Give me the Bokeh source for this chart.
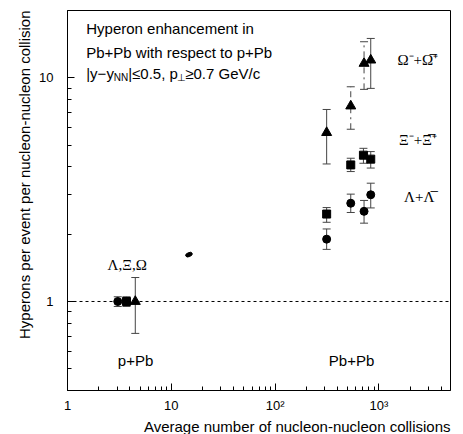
from bokeh.plotting import figure
from bokeh.models import (Range1d, FixedTicker, Whisker, TeeHead, ColumnDataSource,
                          Span, Label, Title)
from bokeh.embed import file_html
from bokeh.resources import INLINE

# ---------------- data ----------------
# p+Pb reference points (Lambda, Xi, Omega)
ppb_x = [3.05, 3.7, 4.5]
ppb_y = [1.0, 1.0, 1.0]
ppb_lo = [0.95, 0.95, 0.72]
ppb_hi = [1.05, 1.05, 1.28]

# stray point
odd_x = [14.8]
odd_y = [1.62]

# Pb+Pb
lam_x = [314, 536, 720, 835]
lam_y = [1.90, 2.75, 2.53, 3.00]
lam_lo = [1.71, 2.50, 2.24, 2.62]
lam_hi = [2.11, 3.02, 2.83, 3.38]

xi_x = [314, 536, 710, 835]
xi_y = [2.46, 4.08, 4.51, 4.33]
xi_lo = [2.26, 3.81, 4.15, 3.95]
xi_hi = [2.63, 4.37, 4.84, 4.68]

om_x = [314, 536, 720, 835]
om_y = [5.69, 7.48, 11.6, 12.0]
om_lo = [4.12, 5.89, 8.88, 8.97]
om_hi = [7.22, 9.12, 14.5, 15.0]

x_major = [1, 10, 100, 1000]
x_minor = [2, 3, 4, 5, 6, 7, 8, 9, 20, 30, 40, 50, 60, 70, 80, 90,
           200, 300, 400, 500, 600, 700, 800, 900, 2000, 3000, 4000]
x_labels = {1: "1", 10: "10", 100: "10²", 1000: "10³"}
y_major = [1, 10]
y_minor = [0.4, 0.5, 0.6, 0.7, 0.8, 0.9, 2, 3, 4, 5, 6, 7, 8, 9, 20]
y_labels = {1: "1", 10: "10"}

SANS = "Liberation Sans"
SERIF = "Liberation Serif"

p = figure(width=463, height=434, x_axis_type="log", y_axis_type="log",
           x_range=Range1d(1, 4900), y_range=Range1d(0.4, 20),
           output_backend="svg", toolbar_location=None,
           min_border_left=67, min_border_right=13, min_border_top=10,
           min_border_bottom=44)
p.background_fill_color = "white"
p.border_fill_color = "white"
p.outline_line_color = "black"
p.outline_line_width = 1
p.outline_line_alpha = 1.0
p.xgrid.visible = False
p.ygrid.visible = False

p.xaxis.ticker = FixedTicker(ticks=x_major, minor_ticks=x_minor)
p.yaxis.ticker = FixedTicker(ticks=y_major, minor_ticks=y_minor)
p.xaxis.major_label_overrides = x_labels
p.yaxis.major_label_overrides = y_labels
for ax in (p.xaxis[0], p.yaxis[0]):
    ax.major_tick_in = 7
    ax.major_tick_out = 0
    ax.minor_tick_in = 4
    ax.minor_tick_out = 0
    ax.axis_line_color = "black"
    ax.major_tick_line_color = "black"
    ax.minor_tick_line_color = "black"
    ax.major_label_text_font = SANS
    ax.major_label_text_font_size = "13px"
    ax.major_label_text_color = "black"
p.xaxis.major_label_standoff = 7
p.yaxis.major_label_standoff = 14

# axis titles as panel titles so that they can be aligned to the frame ends
p.add_layout(Title(text="Average number of nucleon-nucleon collisions", align="right",
                   text_font=SANS, text_font_size="15px", text_font_style="normal",
                   text_color="black", standoff=0), "below")
p.add_layout(Title(text="Hyperons per event per nucleon-nucleon collision", align="right",
                   text_font=SANS, text_font_size="15px", text_font_style="normal",
                   text_color="black", standoff=7), "left")

p.add_layout(Span(location=1, dimension="width", line_dash="3 3",
                  line_color="black", line_width=1))

BAR = "#444444"


def bars(xs, lo, hi, idx=None, dash="solid"):
    if idx is None:
        idx = range(len(xs))
    src = ColumnDataSource(dict(x=[xs[i] for i in idx], lo=[lo[i] for i in idx],
                                hi=[hi[i] for i in idx]))
    w = Whisker(source=src, base="x", lower="lo", upper="hi", dimension="height",
                line_color=BAR, line_width=1, line_dash=dash,
                upper_head=TeeHead(size=8, line_color=BAR, line_width=1),
                lower_head=TeeHead(size=8, line_color=BAR, line_width=1))
    p.add_layout(w)


bars(ppb_x, ppb_lo, ppb_hi)
bars(lam_x, lam_lo, lam_hi)
bars(xi_x, xi_lo, xi_hi)
bars(om_x, om_lo, om_hi, idx=[0, 3])
bars(om_x, om_lo, om_hi, idx=[1, 2], dash="dashdot")

p.scatter(ppb_x[:1], ppb_y[:1], marker="circle", size=8, color="black")
p.scatter(ppb_x[1:2], ppb_y[1:2], marker="square", size=8, color="black")
p.scatter(ppb_x[2:], ppb_y[2:], marker="triangle", size=10, color="black")
p.scatter(lam_x, lam_y, marker="circle", size=8, color="black")
p.scatter(xi_x, xi_y, marker="square", size=8, color="black")
p.scatter(om_x, om_y, marker="triangle", size=10, color="black")
p.ellipse(odd_x, odd_y, width=7, height=4, angle=0.4, width_units="screen",
          height_units="screen", color="black")


def lab(x, y, text, size="15px", font=SANS, align="left", xo=0, yo=0):
    p.add_layout(Label(x=x, y=y, text=text, text_font=font, text_font_size=size,
                       text_align=align, text_baseline="middle",
                       x_offset=xo, y_offset=yo, text_color="black"))


tx = 1.515
lab(tx, 16.7, "Hyperon enhancement in")
lab(tx, 12.98, "Pb+Pb with respect to p+Pb")
lab(tx, 10.46, "|y−y")
lab(tx, 10.46, "NN", size="10px", xo=27.5, yo=-4)
lab(tx, 10.46, "|≤0.5, p", xo=42)
lab(tx, 10.46, "⊥", size="10px", xo=91, yo=-4)
lab(tx, 10.46, "≥0.7 GeV/c", xo=99)

lab(3.76, 1.45, "Λ,Ξ,Ω", font=SERIF, align="center")
lab(4.53, 0.546, "p+Pb", align="center")
lab(546, 0.546, "Pb+Pb", align="center")
lab(1511, 12.0, "Ω⁻+Ω\u0305⁺", font=SERIF)
lab(1567, 5.27, "Ξ⁻+Ξ\u0305⁺", font=SERIF)
lab(1750, 2.94, "Λ+Λ\u0305", font=SERIF)

open("out.html", "w").write(file_html(p, INLINE))
